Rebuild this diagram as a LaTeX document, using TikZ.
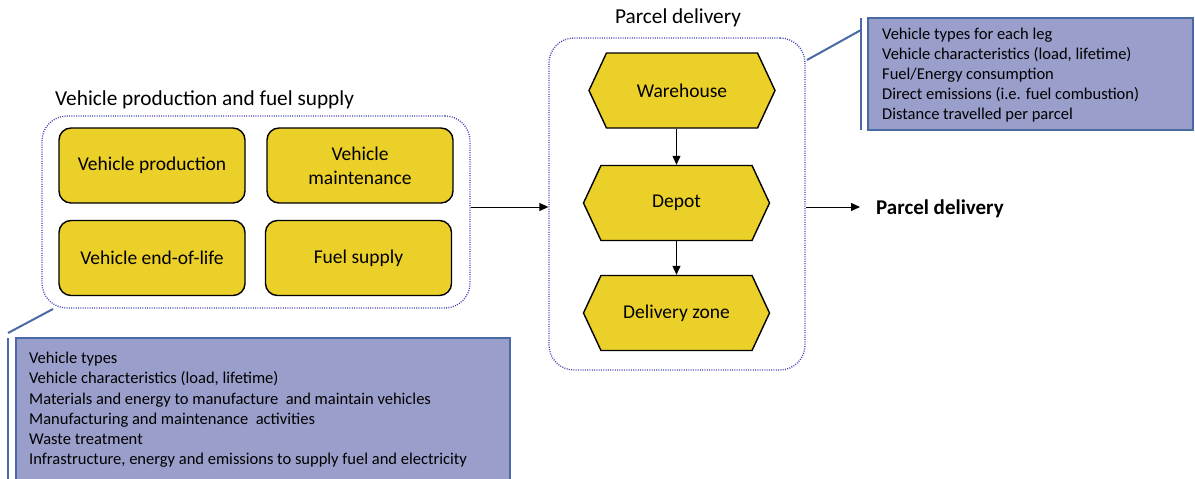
\documentclass[tikz,border=0pt]{standalone}
\usepackage{fontspec}
\setmainfont{Carlito}
\usepackage{xcolor}
\usepackage{tikz}
\usetikzlibrary{shapes.symbols,arrows.meta,positioning}
\definecolor{stage}{RGB}{236,208,42}
\definecolor{note}{RGB}{154,158,202}
\definecolor{noteline}{RGB}{74,106,166}
\definecolor{grp}{RGB}{66,66,178}
\newcommand{\fsz}[2]{\fontsize{#1}{#2}\selectfont}

\begin{document}
\begin{tikzpicture}[x=1pt,y=-1pt,
  stagebox/.style={draw=black,line width=1.4pt,fill=stage,rounded corners=12pt,
    minimum width=186pt,minimum height=75pt,align=center,font=\fsz{19.5}{24}},
  hexbox/.style={draw=black,line width=1.4pt,fill=stage,shape=signal,signal to=east and west,
    signal pointer angle=130,minimum width=186pt,minimum height=75pt,font=\fsz{19.5}{24}},
  groupbox/.style={draw=grp,line width=1.3pt,dash pattern=on 1pt off 1.3pt,rounded corners=25pt},
  notebox/.style={draw=noteline,line width=1.5pt,fill=note},
  noteedge/.style={noteline,line width=2pt},
  arr/.style={-{Triangle[length=9pt,width=8pt]},line width=1pt}]
\useasboundingbox (0,0) rectangle (1195,479);
\clip (0,0) rectangle (1195,479);

% production and fuel supply
\node[anchor=west,inner sep=0pt,font=\fsz{21.3}{26}] (prodtitle) at (55,100) {Vehicle production and fuel supply};
\node[groupbox,minimum width=428pt,minimum height=192pt] (prod) at (256,212) {};
\node[stagebox] (vprod) at (152,165.5) {Vehicle production};
\node[stagebox] (vmaint) at (360,165.5) {Vehicle\\maintenance};
\node[stagebox] (veol) at (152,258) {Vehicle end-of-life};
\node[stagebox] (fuel) at (358.5,258) {Fuel supply};

% delivery legs
\node[font=\fsz{21.3}{26}] (deltitle) at (678,18) {Parcel delivery};
\node[groupbox,minimum width=256pt,minimum height=332pt] (deliv) at (677,204) {};
\node[hexbox] (wh) at (682,90.5) {Warehouse};
\node[hexbox] (dep) at (676.5,203) {Depot};
\node[hexbox] (zone) at (676.5,313) {Delivery zone};
\draw[arr] (wh.south -| dep.north) -- (dep.north);
\draw[arr] (dep.south) -- (zone.north);

\coordinate (p1) at (prod.east |- 0,207);
\coordinate (p2) at (deliv.west |- 0,207);
\coordinate (p3) at (deliv.east |- 0,207);
\draw[arr] (p1) -- (p2);
\node[anchor=west,inner sep=0pt,font=\bfseries\fsz{21}{26}] (out) at (876,209) {Parcel delivery};
\draw[arr,shorten >=16pt] (p3) -- (out.west |- p3);

% parameter notes
\node[notebox,minimum width=325pt,minimum height=112pt] (upnote) at (1030.5,74) {};
\node[anchor=north west,align=left,inner sep=0pt,font=\fsz{16.5}{20}] (uptext) at (882,28)
  {Vehicle types for each leg\\Vehicle characteristics (load, lifetime)\\Fuel/Energy consumption\\Direct emissions (i.e. fuel combustion)\\Distance travelled per parcel};
\coordinate (upa) at (861,18);
\coordinate (upb) at (861,130);
\coordinate (upc) at (807,60);
\draw[noteedge] (upa) -- (upb);
\draw[noteedge] (upc) -- (861,30);

\node[notebox,minimum width=494pt,minimum height=160pt] (lownote) at (263,418) {};
\node[anchor=north west,align=left,inner sep=0pt,font=\fsz{16.5}{20.2}] (lowtext) at (29,352)
  {Vehicle types\\Vehicle characteristics (load, lifetime)\\Materials and energy to manufacture\ \ and maintain vehicles\\Manufacturing and maintenance\ \ activities\\Waste treatment\\Infrastructure, energy and emissions to supply fuel and electricity};
\coordinate (lowa) at (8,338);
\coordinate (lowb) at (8,490);
\coordinate (lowc) at (53,309);
\draw[noteedge] (lowa) -- (lowb);
\draw[noteedge] (8,333) -- (lowc);
\end{tikzpicture}
\end{document}
